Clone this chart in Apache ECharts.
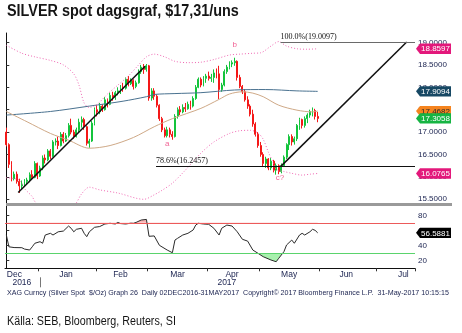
<!DOCTYPE html>
<html>
<head>
<meta charset="utf-8">
<script src="https://cdn.jsdelivr.net/npm/echarts@6/dist/echarts.min.js"></script>
<style>
html,body{margin:0;padding:0;background:#fff;}
#chart{width:462px;height:333px;}
</style>
</head>
<body>
<div id="chart"></div>
<script>
// ---- time axis: trading days (weekdays) from 14 Dec 2016 ----
const firstDay = '2016-12-14';
const dayCount = 158;
const monthNames = ['Jan','Feb','Mar','Apr','May','Jun','Jul','Aug','Sep','Oct','Nov','Dec'];

// ---- XAG spot daily candles: [open, high, low, close] ----
const ohlc = [
  [17.00,17.10,16.68,16.72],[16.72,16.75,16.20,16.28],[16.28,16.35,15.90,15.96],[15.96,16.12,15.92,16.06],
  [16.06,16.12,15.85,15.90],[15.90,15.96,15.64,15.80],[15.80,15.92,15.72,15.84],[15.84,15.95,15.78,15.90],
  [15.90,15.98,15.84,15.93],[15.93,16.10,15.88,16.05],[16.05,16.15,15.95,15.99],[15.99,16.35,15.97,16.30],
  [16.30,16.32,15.95,16.02],[16.02,16.25,16.00,16.20],[16.20,16.48,16.15,16.42],[16.42,16.50,16.30,16.38],
  [16.38,16.62,16.35,16.58],[16.58,16.62,16.40,16.46],[16.46,16.82,16.44,16.78],[16.78,16.86,16.70,16.80],
  [16.80,16.90,16.62,16.70],[16.70,17.00,16.68,16.95],[16.95,17.00,16.75,16.80],[16.80,16.98,16.78,16.92],
  [16.92,17.20,16.88,17.15],[17.15,17.30,16.95,17.00],[17.00,17.05,16.85,16.90],[16.90,17.10,16.88,17.05],
  [17.05,17.30,17.00,17.22],[17.22,17.35,17.10,17.28],[17.28,17.32,17.05,17.12],[17.12,17.15,16.70,16.75],
  [16.75,16.85,16.65,16.80],[16.80,17.25,16.78,17.20],[17.20,17.55,17.15,17.50],[17.50,17.60,17.35,17.45],
  [17.45,17.65,17.40,17.58],[17.58,17.62,17.45,17.50],[17.50,17.78,17.48,17.72],[17.72,17.75,17.55,17.62],
  [17.62,17.88,17.60,17.82],[17.82,17.90,17.70,17.78],[17.78,17.92,17.72,17.88],[17.88,18.00,17.82,17.92],
  [17.92,18.05,17.85,18.00],[18.00,18.10,17.90,17.98],[17.98,18.22,17.95,18.18],[18.18,18.25,18.02,18.08],
  [18.08,18.20,18.05,18.15],[18.15,18.18,17.95,18.02],[18.02,18.15,17.98,18.10],[18.10,18.40,18.08,18.35],
  [18.35,18.50,18.30,18.45],[18.45,18.52,18.30,18.40],[18.40,18.52,18.35,18.48],[18.48,18.50,17.70,17.76],
  [17.76,17.98,17.70,17.92],[17.92,17.98,17.72,17.80],[17.80,17.84,17.55,17.60],[17.60,17.62,17.25,17.30],
  [17.30,17.34,17.00,17.05],[17.05,17.10,16.88,16.92],[16.92,17.12,16.88,17.05],[17.05,17.10,16.88,16.95],
  [16.95,17.02,16.83,16.90],[16.90,17.40,16.88,17.35],[17.35,17.55,17.30,17.50],[17.50,17.58,17.38,17.45],
  [17.45,17.62,17.42,17.55],[17.55,17.65,17.45,17.52],[17.52,17.68,17.50,17.62],[17.62,17.70,17.50,17.58],
  [17.58,17.80,17.55,17.75],[17.75,18.05,17.72,18.00],[18.00,18.22,17.98,18.18],[18.18,18.22,18.00,18.05],
  [18.05,18.25,18.02,18.20],[18.20,18.30,18.10,18.25],[18.25,18.35,18.15,18.20],[18.20,18.30,18.12,18.22],
  [18.22,18.40,18.10,18.32],[18.32,18.42,18.20,18.30],[18.30,18.48,17.74,17.95],[17.95,18.10,17.90,18.05],
  [18.05,18.40,18.02,18.35],[18.35,18.50,18.30,18.45],[18.45,18.58,18.40,18.52],[18.52,18.60,18.45,18.55],
  [18.55,18.66,18.48,18.58],[18.58,18.60,18.15,18.22],[18.22,18.28,17.98,18.02],[18.02,18.05,17.85,17.90],
  [17.90,17.96,17.68,17.72],[17.72,17.80,17.52,17.58],[17.58,17.62,17.35,17.40],[17.40,17.50,17.12,17.18],
  [17.18,17.22,16.90,16.95],[16.95,17.00,16.65,16.70],[16.70,16.78,16.45,16.50],[16.50,16.55,16.22,16.30],
  [16.30,16.45,16.20,16.40],[16.40,16.42,16.15,16.20],[16.20,16.42,16.15,16.35],[16.35,16.38,16.10,16.15],
  [16.15,16.30,16.05,16.25],[16.25,16.28,16.06,16.12],[16.12,16.30,16.08,16.25],[16.25,16.48,16.22,16.44],
  [16.44,16.75,16.40,16.72],[16.72,16.95,16.60,16.90],[16.90,16.95,16.70,16.78],[16.78,16.90,16.72,16.85],
  [16.85,17.18,16.80,17.15],[17.15,17.32,17.05,17.28],[17.28,17.30,17.08,17.15],[17.15,17.35,17.10,17.30],
  [17.30,17.42,17.20,17.38],[17.38,17.50,17.32,17.46],[17.46,17.55,17.35,17.48],[17.48,17.52,17.28,17.35],
  [17.35,17.45,17.22,17.3058]
];

// ---- overlays: [trading day, value] ----
const ma200 = [[0,17.38],[17,17.46],[32,17.58],[45,17.69],[54,17.79],[57,17.84],[65,17.86],[75,17.88],
  [88,17.94],[100,17.95],[112,17.92],[120,17.9094]];
const ma50 = [[0,17.46],[8,17.23],[17,16.97],[24,16.82],[32,16.64],[40,16.70],[49,16.88],[57,17.12],
  [64,17.30],[75,17.53],[82,17.73],[86,17.85],[91,17.90],[95,17.87],[99,17.79],[105,17.60],[112,17.49],
  [118,17.45],[120,17.4682]];
const bbUpper = [[0,18.94],[6,18.76],[11,18.68],[17,18.60],[22,18.50],[26,18.30],[28,18.05],[30,17.65],
  [32,17.55],[35,17.62],[39,17.85],[43,18.05],[47,18.25],[51,18.50],[54,18.68],[57,18.74],[61,18.68],
  [65,18.58],[70,18.55],[75,18.56],[80,18.62],[86,18.72],[90,18.74],[95,18.76],[98,18.77],[102,18.92],
  [105,19.02],[108,18.92],[112,18.86],[116,18.85],[120,18.8597]];
const bbLower = [[0,15.98],[5,15.93],[7,15.74],[10,15.56],[11,15.45],[14,15.30],[20,15.25],[25,15.30],
  [27,15.42],[29,15.62],[32,15.77],[36,15.71],[43,15.64],[53,15.50],[57,15.60],[60,15.70],[64,15.86],
  [69,16.15],[75,16.53],[80,16.78],[86,16.97],[90,17.03],[94,17.04],[97,16.98],[99,16.84],[101,16.55],
  [103,16.30],[104,16.17],[107,16.12],[110,16.08],[114,16.04],[117,16.06],[120,16.0765]];
const trendLines = [
  [[4.6,15.65],[53.5,18.47]],
  [[105.7,16.23],[154.3,19.01]]
];
const fibLevels = [
  {pct:'78.6', value:16.2457, from:57.7},
  {pct:'100.0', value:19.0097, from:105.7}
];
const waveMarks = [
  {text:'a', day:62, price:16.74},
  {text:'b', day:88, price:18.94},
  {text:'c?', day:105.5, price:15.98}
];

// ---- 14-day RSI: [trading day, value] ----
const rsi = [[0,54],[1,38],[3,37],[6,36.8],[7,35],[9,33.7],[10,38],[11,42.7],[13,44.8],[14,42.7],[15,53.7],
  [17,56],[18,53.7],[20,58],[22,59],[24,65.7],[25,62.7],[26,58],[27,61.3],[29,62.7],[30,56],[31,51.5],
  [32,58],[34,64],[36,65],[38,68.4],[40,69.3],[42,68.4],[43,70.5],[44,69],[46,68.4],[48,69.5],[49,69.3],
  [50,70.5],[52,73.7],[54,74.5],[55,52],[57,52.5],[59,40],[62,33.7],[64,30.1],[65,47],[66,49.3],[68,53.7],
  [70,56],[72,60.4],[73,67],[74,69.3],[76,68.4],[78,68],[80,62.7],[82,53.7],[83,62.7],[85,67],[87,65.7],
  [89,58],[91,48],[93,45.6],[95,33.7],[97,29.3],[99,24.8],[102,20.4],[104,18.1],[105,22.7],[107,31.6],
  [108,40.4],[110,47],[111,42.7],[113,53.7],[114,56],[115,53.7],[117,58],[118,61.3],[119,60],[120,56.5881]];
const rsiBands = {over: 70, under: 30};

// ---- build the weekday calendar and month / year label positions ----
function addDays(d, n) { const r = new Date(d.getTime()); r.setUTCDate(r.getUTCDate() + n); return r; }
function isWeekday(d) { const w = d.getUTCDay(); return w !== 0 && w !== 6; }
const start = new Date(firstDay + 'T00:00:00Z');
const days = [];
for (let d = start; days.length < dayCount; d = addDays(d, 1)) {
  if (isWeekday(d)) days.push(d.toISOString().slice(0, 10));
}
// weekday index of any date relative to the first day (may be negative)
function dayIndex(d) {
  let n = 0;
  if (d >= start) { for (let c = start; c < d; c = addDays(c, 1)) if (isWeekday(c)) n++; }
  else { for (let c = d; c < start; c = addDays(c, 1)) if (isWeekday(c)) n--; }
  return n;
}
const monthStarts = new Set();
const monthLabelAt = new Map();
const yearStarts = new Set();
const yearLabelAt = new Map();
const monthKeys = [];
days.forEach((s, i) => {
  const k = s.slice(0, 7);
  if (!monthKeys.includes(k)) monthKeys.push(k);
  if (i > 0 && k !== days[i - 1].slice(0, 7)) monthStarts.add(i);
  if (i > 0 && s.slice(0, 4) !== days[i - 1].slice(0, 4)) yearStarts.add(i);
});
monthKeys.forEach(k => {
  const y = +k.slice(0, 4), m = +k.slice(5, 7) - 1;
  let a = new Date(Date.UTC(y, m, 1)); while (!isWeekday(a)) a = addDays(a, 1);
  let b = new Date(Date.UTC(y, m + 1, 0)); while (!isWeekday(b)) b = addDays(b, -1);
  let mid = Math.floor((dayIndex(a) + dayIndex(b)) / 2);
  mid = Math.max(0, Math.min(dayCount - 1, mid));
  monthLabelAt.set(mid, monthNames[m]);
});
const firstMonthLabel = Math.min(...monthLabelAt.keys());
{
  const years = [...new Set(days.map(s => s.slice(0, 4)))];
  years.forEach(yr => {
    const idx = days.map((s, i) => s.startsWith(yr) ? i : -1).filter(i => i >= 0);
    yearLabelAt.set(Math.floor((idx[0] + idx[idx.length - 1]) / 2), yr);
  });
}

const last = arr => arr[arr.length - 1][1];
const lastClose = ohlc[ohlc.length - 1][3];

const badgeStyles = [
  {fill:'#e3187b', text:'#ffffff'},
  {fill:'#174864', text:'#ffffff'},
  {fill:'#f5841f', text:'#2a2a2a'},
  {fill:'#16b443', text:'#ffffff'},
  {fill:'#000000', text:'#ffffff'}
];
const axisEnd = dayCount - 0.5;
const mainBadges = [
  [axisEnd, last(bbUpper), 0],
  [axisEnd, last(ma200), 1],
  [axisEnd, last(ma50), 2],
  [axisEnd, lastClose, 3],
  [axisEnd, last(bbLower), 0]
];
const rsiBadges = [[axisEnd, last(rsi), 4]];

// value tag drawn just right of the price axis
function renderBadge(params, api) {
  const pt = api.coord([api.value(0), api.value(1)]);
  const st = badgeStyles[api.value(2)];
  const x = pt[0] + 1, y = pt[1], h = 5.2, w = 35;
  return {
    type: 'group',
    children: [
      {type:'polygon', shape:{points:[[x, y], [x + 4, y - h], [x + w, y - h], [x + w, y + h], [x + 4, y + h]]},
       style:{fill: st.fill}},
      {type:'text', style:{text: api.value(1).toFixed(4), x: x + 4 + (w - 4) / 2, y: y + 0.5,
       align:'center', verticalAlign:'middle', fill: st.text, font: '8px "Liberation Sans"'}}
    ]
  };
}

const labelColor = '#1b2350';
const chart = echarts.init(document.getElementById('chart'), null, {renderer: 'canvas'});
chart.setOption({
  animation: false,
  backgroundColor: '#ffffff',
  graphic: [
    {type: 'text', x: 7, y: 4, scaleX: 0.9, silent: true,
     style: {text: 'SILVER spot dagsgraf, $17,31/uns', font: 'bold 16px "Liberation Sans"', fill: '#151515', verticalAlign: 'top'}},
    {type: 'text', x: 7, y: 290, silent: true,
     style: {text: 'XAG Curncy (Silver Spot  $/Oz) Graph 26  Daily 02DEC2016-31MAY2017  Copyright\u00a9 2017 Bloomberg Finance L.P.  31-May-2017 10:15:15',
       font: '7.1px "Liberation Sans"', fill: labelColor, verticalAlign: 'top'}},
    {type: 'text', x: 7, y: 316, scaleX: 0.895, silent: true,
     style: {text: 'Källa: SEB, Bloomberg, Reuters, SI', font: '12px "Liberation Sans"', fill: '#151515', verticalAlign: 'top'}},
    {type: 'line', shape: {x1: 6, y1: 204.5, x2: 452, y2: 204.5}, style: {stroke: '#9a9a9a', lineWidth: 3}, z: 50, silent: true}
  ],
  grid: [
    {left: 5, right: 47, top: 33, height: 171},
    {left: 5, right: 47, top: 205, height: 63.3}
  ],
  xAxis: [
    {type: 'category', gridIndex: 0, data: days, boundaryGap: true, show: false},
    {type: 'value', gridIndex: 0, min: -0.5, max: axisEnd, show: false},
    {type: 'category', gridIndex: 1, data: days, boundaryGap: true, position: 'bottom',
     axisLine: {show: true, lineStyle: {color: '#111', width: 1}},
     axisTick: {show: true, interval: i => monthStarts.has(i), length: 3, lineStyle: {color: '#333'}},
     axisLabel: {interval: i => monthLabelAt.has(i),
       formatter: (v, i) => i === firstMonthLabel ? `{lead|${monthLabelAt.get(i)}}` : (monthLabelAt.get(i) || ''),
       rich: {lead: {padding: [0, 0, 0, 11], fontSize: 8.5, fontFamily: '"Liberation Sans"', color: labelColor}},
       margin: 2, fontSize: 8.5, fontFamily: '"Liberation Sans"', color: labelColor},
     splitLine: {show: false}},
    {type: 'value', gridIndex: 1, min: -0.5, max: axisEnd, show: false},
    {type: 'category', gridIndex: 1, data: days, boundaryGap: true, position: 'bottom', offset: 9,
     axisLine: {show: false},
     axisTick: {show: true, alignWithLabel: true, interval: i => yearStarts.has(i), length: 10, lineStyle: {color: '#777'}},
     axisLabel: {interval: i => yearLabelAt.has(i), formatter: (v, i) => yearLabelAt.get(i) || '',
       margin: 1, fontSize: 8.5, fontFamily: '"Liberation Sans"', color: labelColor},
     splitLine: {show: false}}
  ],
  yAxis: [
    {type: 'value', gridIndex: 0, position: 'right', min: 15.395, max: 19.212, splitNumber: 8,
     minInterval: 0.5, maxInterval: 0.5,
     axisLine: {show: true, lineStyle: {color: '#111'}},
     axisTick: {show: true, length: 3, lineStyle: {color: '#333'}},
     axisLabel: {formatter: v => v.toFixed(4), showMinLabel: false, showMaxLabel: false, margin: 3,
       fontSize: 8, fontFamily: '"Liberation Sans"', color: labelColor},
     splitLine: {show: false}},
    {type: 'value', gridIndex: 1, position: 'right', min: 9.33, max: 93.73, splitNumber: 4,
     minInterval: 20, maxInterval: 20,
     axisLine: {show: true, lineStyle: {color: '#111'}},
     axisTick: {show: true, length: 3, lineStyle: {color: '#333'}},
     axisLabel: {formatter: v => String(Math.round(v)), showMinLabel: false, showMaxLabel: false, margin: 3,
       fontSize: 8, fontFamily: '"Liberation Sans"', color: labelColor},
     splitLine: {show: false}}
  ],
  visualMap: [
    {type: 'piecewise', show: false, seriesIndex: 8, dimension: 1,
     pieces: [{gte: -100, lte: rsiBands.over, color: 'rgba(255,255,255,0)'},
              {gt: rsiBands.over, lte: 200, color: '#f6b4b4'}]},
    {type: 'piecewise', show: false, seriesIndex: 9, dimension: 1,
     pieces: [{gte: -100, lt: rsiBands.under, color: '#a8f0ae'},
              {gte: rsiBands.under, lte: 200, color: 'rgba(255,255,255,0)'}]}
  ],
  series: [
    {type: 'candlestick', xAxisIndex: 0, yAxisIndex: 0, barWidth: 1.4,
     data: ohlc.map(r => [r[0], r[3], r[2], r[1]]),
     itemStyle: {color: '#14c43c', color0: '#f41818', borderColor: '#14c43c', borderColor0: '#f41818', borderWidth: 1}},
    {type: 'line', xAxisIndex: 1, yAxisIndex: 0, data: ma200, symbol: 'none', smooth: 0.3,
     lineStyle: {color: '#4a7290', width: 1}},
    {type: 'line', xAxisIndex: 1, yAxisIndex: 0, data: ma50, symbol: 'none', smooth: 0.3,
     lineStyle: {color: '#cfa987', width: 1}},
    {type: 'line', xAxisIndex: 1, yAxisIndex: 0, data: bbUpper, symbol: 'none', smooth: 0.3,
     lineStyle: {color: '#f06ab4', width: 1, type: [1, 2]}},
    {type: 'line', xAxisIndex: 1, yAxisIndex: 0, data: bbLower, symbol: 'none', smooth: 0.3,
     lineStyle: {color: '#f06ab4', width: 1, type: [1, 2]}},
    {type: 'line', xAxisIndex: 1, yAxisIndex: 0, data: trendLines[0], symbol: 'none',
     lineStyle: {color: '#111', width: 1.5},
     markLine: {symbol: 'none', silent: true,
       label: {show: true, position: 'insideStartTop', distance: [0, 1], fontFamily: '"Liberation Serif"', fontSize: 8, color: '#111'},
       data: fibLevels.map((f, k) => [
         {coord: [f.from, f.value], lineStyle: {color: k === 0 ? '#111' : '#6a6a6a', width: 1, type: 'solid'},
          label: {formatter: `${f.pct}%(${f.value.toFixed(4)})`}},
         {coord: [axisEnd, f.value]}
       ])}},
    {type: 'line', xAxisIndex: 1, yAxisIndex: 0, data: trendLines[1], symbol: 'none',
     lineStyle: {color: '#111', width: 1.5}},
    {type: 'scatter', xAxisIndex: 1, yAxisIndex: 0, symbolSize: 0,
     data: waveMarks.map(w => ({value: [w.day, w.price], name: w.text})),
     label: {show: true, position: 'inside', formatter: p => p.name, fontFamily: '"Liberation Sans"', fontSize: 8, color: '#ee3a78'}},
    {type: 'line', xAxisIndex: 3, yAxisIndex: 1, data: rsi, symbol: 'none', silent: true,
     lineStyle: {width: 0}, areaStyle: {origin: rsiBands.over, opacity: 1}},
    {type: 'line', xAxisIndex: 3, yAxisIndex: 1, data: rsi, symbol: 'none', silent: true,
     lineStyle: {width: 0}, areaStyle: {origin: rsiBands.under, opacity: 1}},
    {type: 'line', xAxisIndex: 3, yAxisIndex: 1, data: rsi, symbol: 'none',
     lineStyle: {color: '#2a2a2a', width: 1},
     markLine: {symbol: 'none', silent: true, label: {show: false},
       data: [{yAxis: rsiBands.over, lineStyle: {color: '#ec5a5a', width: 1, type: 'solid'}},
              {yAxis: rsiBands.under, lineStyle: {color: '#5ad46c', width: 1, type: 'solid'}}]}},
    {type: 'custom', xAxisIndex: 1, yAxisIndex: 0, data: mainBadges, renderItem: renderBadge, clip: false, z: 20, silent: true},
    {type: 'custom', xAxisIndex: 3, yAxisIndex: 1, data: rsiBadges, renderItem: renderBadge, clip: false, z: 20, silent: true}
  ]
});
</script>
</body>
</html>
